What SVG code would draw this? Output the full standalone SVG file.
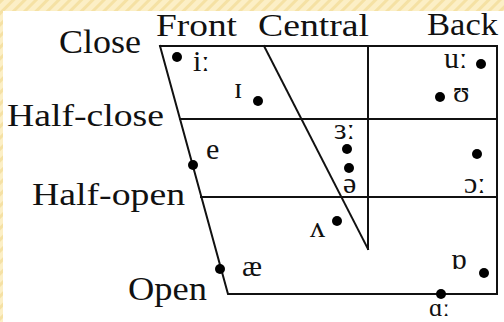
<svg xmlns="http://www.w3.org/2000/svg" width="504" height="322" viewBox="0 0 504 322">
<defs>
<pattern id="stripes" width="8" height="8" patternUnits="userSpaceOnUse" patternTransform="rotate(45)">
<rect width="8" height="8" fill="#fcefc6"/>
<rect width="3" height="8" fill="#f5e1a4"/>
</pattern>
<style>
.ax{font-family:"Liberation Serif","DejaVu Serif",serif;font-size:32px;fill:#111}
.ipa{font-family:"Liberation Serif","DejaVu Serif",serif;font-size:30px;fill:#111}
.ln{stroke:#111;stroke-width:2;fill:none;stroke-linecap:square}
.dot{fill:#000}
</style>
</defs>
<rect width="504" height="322" fill="url(#stripes)"/>
<rect x="3" y="11" width="501" height="311" fill="#fff"/>

<g id="connectors">
<polyline class="ln" points="160,46 497,46 497,294 228,294 160,46"/>
<line class="ln" x1="180" y1="119" x2="497" y2="119"/>
<line class="ln" x1="201" y1="197" x2="497" y2="197"/>
<line class="ln" x1="368" y1="46" x2="368" y2="249"/>
<line class="ln" x1="264" y1="46" x2="368" y2="249"/>
</g>

<g id="label-front"><text class="ax" x="156" y="36" textLength="81" lengthAdjust="spacingAndGlyphs">Front</text></g>
<g id="label-central"><text class="ax" x="258" y="36" textLength="111" lengthAdjust="spacingAndGlyphs">Central</text></g>
<g id="label-back"><text class="ax" x="427" y="35" textLength="71" lengthAdjust="spacingAndGlyphs">Back</text></g>
<g id="label-close"><text class="ax" x="59" y="53" style="font-size:33px" textLength="82" lengthAdjust="spacingAndGlyphs">Close</text></g>
<g id="label-half-close"><text class="ax" x="7" y="126" textLength="157" lengthAdjust="spacingAndGlyphs">Half-close</text></g>
<g id="label-half-open"><text class="ax" x="32" y="205" textLength="153" lengthAdjust="spacingAndGlyphs">Half-open</text></g>
<g id="label-open"><text class="ax" x="128" y="300" style="font-size:34px" textLength="79" lengthAdjust="spacingAndGlyphs">Open</text></g>

<g id="v-i-long"><circle class="dot" cx="177" cy="57" r="5"/><text class="ipa" x="193" y="71">iː</text></g>
<g id="v-i-short"><circle class="dot" cx="258" cy="101" r="5"/><text class="ipa" x="234" y="98">ɪ</text></g>
<g id="v-u-long"><circle class="dot" cx="481" cy="64" r="5"/><text class="ipa" x="444" y="68">uː</text></g>
<g id="v-u-short"><circle class="dot" cx="440" cy="97" r="5"/><text class="ipa" x="453" y="102">ʊ</text></g>
<g id="v-e"><circle class="dot" cx="193" cy="165" r="5"/><text class="ipa" x="206" y="159">e</text></g>
<g id="v-er"><circle class="dot" cx="347" cy="149" r="5"/><text class="ipa" x="334" y="139">ɜː</text></g>
<g id="v-schwa"><circle class="dot" cx="349" cy="168" r="5"/><text class="ipa" x="343" y="193">ə</text></g>
<g id="v-o-long"><circle class="dot" cx="477" cy="154" r="5"/><text class="ipa" x="464" y="193">ɔː</text></g>
<g id="v-wedge"><circle class="dot" cx="337" cy="221" r="5"/><text class="ipa" x="310" y="237">ʌ</text></g>
<g id="v-ae"><circle class="dot" cx="220" cy="269" r="5"/><text class="ipa" x="242" y="276">æ</text></g>
<g id="v-o-short"><circle class="dot" cx="484" cy="273" r="5"/><text class="ipa" x="451" y="269">ɒ</text></g>
<g id="v-a-long"><circle class="dot" cx="441" cy="294" r="5"/><text class="ipa" x="429" y="316" style="font-size:26px">ɑː</text></g>
</svg>
